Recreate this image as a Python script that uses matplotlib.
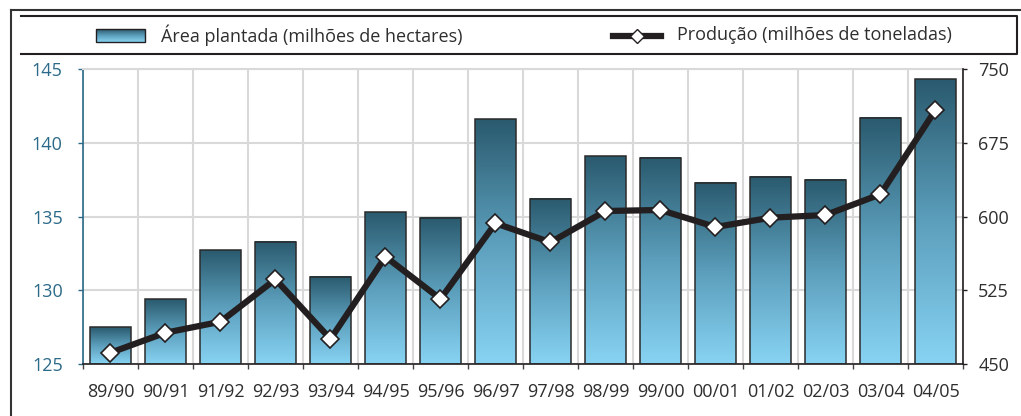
import matplotlib
matplotlib.use('Agg')
import matplotlib.pyplot as plt
import numpy as np
from matplotlib.colors import LinearSegmentedColormap
from matplotlib.lines import Line2D
from matplotlib.patches import Rectangle

# safras e valores
safras = ['89/90', '90/91', '91/92', '92/93', '93/94', '94/95', '95/96', '96/97',
          '97/98', '98/99', '99/00', '00/01', '01/02', '02/03', '03/04', '04/05']
area = [127.5, 129.4, 132.7, 133.3, 130.9, 135.3, 134.9, 141.6,
        136.2, 139.1, 139.0, 137.3, 137.7, 137.5, 141.7, 144.3]
producao = [461.5, 481.8, 493.0, 536.1, 475.4, 559.1, 516.1, 593.1,
            573.8, 605.6, 606.6, 589.3, 598.8, 601.5, 622.6, 708.3]

W, H = 1021, 416
plt.rcParams['font.family'] = ['Open Sans', 'DejaVu Sans']

TEAL = '#2b6a88'
ESCURO = '#231f20'
TEXTO = '#2e2e2e'
GRADE = '#d9d9d9'

fig = plt.figure(figsize=(W / 100, H / 100), dpi=100)

# camada de fundo em pixels: moldura e caixa da legenda
lax = fig.add_axes([0, 0, 1, 1], zorder=0)
lax.axis('off')

cmap = LinearSegmentedColormap.from_list('barra', ['#88d3f3', '#5c9fbc', '#2a5a6e'])
grad = np.linspace(0, 1, 256).reshape(-1, 1)

lax.plot([11, 11], [10, H + 5], color='#333333', lw=1.5)
lax.plot([11, W + 5], [10.3, 10.3], color='#333333', lw=1.5)
lax.plot([21, 1017, 1017, 21], [16, 16, 54, 54], color=ESCURO, lw=1.5)

# itens da legenda
lax.imshow(grad, extent=[96, 145, 42, 29], origin='lower', cmap=cmap, aspect='auto')
lax.add_patch(Rectangle((96, 29), 49, 13, facecolor='none', edgecolor=ESCURO, lw=1))
lax.text(161, 35.5, 'Área plantada (milhões de hectares)', fontsize=13, color=TEXTO,
         va='center', ha='left')
lax.add_line(Line2D([613, 661], [36, 36], color=ESCURO, lw=4.5))
lax.add_line(Line2D([637], [36], marker='D', ms=7, mfc='white', mec=ESCURO, mew=1))
lax.text(677, 35.5, 'Produção (milhões de toneladas)', fontsize=13, color=TEXTO,
         va='center', ha='left')
lax.set_xlim(0, W)
lax.set_ylim(H, 0)

# eixo principal - área plantada
ax = fig.add_axes([83 / W, 1 - 364 / H, (963 - 83) / W, (364 - 69) / H], zorder=1)
ax.patch.set_alpha(0)
x = np.arange(len(safras))
largura = 0.73
barras = ax.bar(x, np.array(area) - 125, bottom=125, width=largura,
                facecolor='none', edgecolor='#2b2b2b', linewidth=1.1, zorder=3)
for b in barras:
    x0, y0 = b.get_x(), b.get_y()
    ax.imshow(grad, extent=[x0, x0 + b.get_width(), y0, y0 + b.get_height()],
              origin='lower', cmap=cmap, aspect='auto', zorder=2)

ax.set_xlim(-0.5, len(safras) - 0.5)
ax.set_ylim(125, 145)
ax.set_yticks([125, 130, 135, 140, 145])
ax.set_xticks(x)
ax.set_xticklabels(safras)
ax.set_xticks(np.arange(-0.5, len(safras), 1), minor=True)
ax.set_axisbelow(True)
ax.grid(axis='x', which='minor', color=GRADE, lw=1.5)
ax.grid(axis='y', which='major', color=GRADE, lw=1.5)
ax.tick_params(axis='x', which='major', length=0, pad=14, labelsize=13, labelcolor=TEXTO)
ax.tick_params(axis='x', which='minor', length=3.6, width=1, color='#444444', direction='out')
ax.tick_params(axis='y', length=3.6, width=1, color=TEAL, labelcolor=TEAL, labelsize=13, pad=11)
ax.spines['left'].set_color(TEAL)
ax.spines['left'].set_linewidth(1.2)
ax.spines['top'].set_color(GRADE)
ax.spines['top'].set_linewidth(1.5)
ax.spines['bottom'].set_color(ESCURO)
ax.spines['bottom'].set_linewidth(1.2)
ax.spines['right'].set_visible(False)

# eixo secundário - produção
ax2 = ax.twinx()
ax2.plot(x, producao, color=ESCURO, lw=4.5, marker='D', ms=9.5,
         mfc='white', mec=ESCURO, mew=1.2, zorder=5)
ax2.set_ylim(450, 750)
ax2.set_yticks([450, 525, 600, 675, 750])
ax2.tick_params(axis='y', length=3, width=1, color=ESCURO, labelcolor=TEXTO,
                labelsize=13, pad=8)
ax2.spines['right'].set_color(ESCURO)
ax2.spines['right'].set_linewidth(1.2)
for s in ['top', 'left', 'bottom']:
    ax2.spines[s].set_visible(False)

fig.savefig('out.png', dpi=100)
